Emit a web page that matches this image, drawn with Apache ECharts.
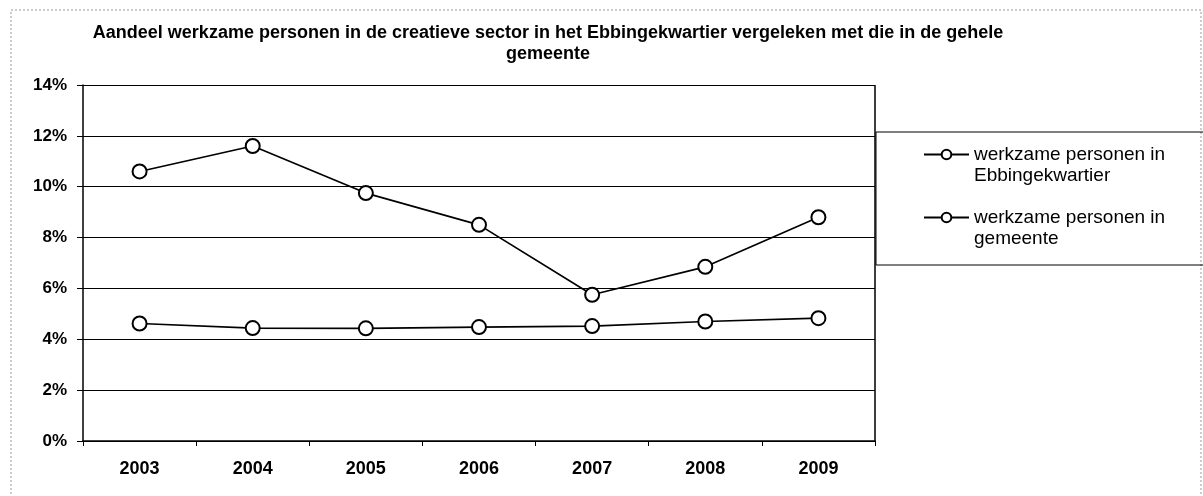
<!DOCTYPE html>
<html>
<head>
<meta charset="utf-8">
<script src="https://cdn.jsdelivr.net/npm/echarts@6/dist/echarts.min.js"></script>
<style>
  html, body { margin: 0; padding: 0; background: #fff; }
  #chart { width: 1203px; height: 496px; }
</style>
</head>
<body>
<div id="chart"></div>
<script>
// jaren op de x-as
var years = ['2003', '2004', '2005', '2006', '2007', '2008', '2009'];
// aandeel in procenten
var ebbinge = [10.6, 11.6, 9.75, 8.5, 5.75, 6.85, 8.8];
var gemeente = [4.62, 4.44, 4.43, 4.48, 4.52, 4.7, 4.83];
var seriesNames = ['werkzame personen in Ebbingekwartier', 'werkzame personen in gemeente'];
var titleLines = [
  'Aandeel werkzame personen in de creatieve sector in het Ebbingekwartier vergeleken met die in de gehele',
  'gemeente'
];

var font = 'Liberation Sans, Arial, sans-serif';
var chart = echarts.init(document.getElementById('chart'), null, { renderer: 'canvas' });

function lineSeries(name, data) {
  return {
    name: name,
    type: 'line',
    data: data,
    symbol: 'circle',
    symbolSize: 14,
    showAllSymbol: true,
    itemStyle: { color: '#fff', borderColor: '#000', borderWidth: 2 },
    lineStyle: { color: '#000', width: 1.7 },
    emphasis: { disabled: true },
    animation: false
  };
}

var option = {
  backgroundColor: '#fff',
  animation: false,
  grid: { left: 83, right: 328, top: 85, bottom: 55 },
  legend: {
    orient: 'vertical',
    left: 918,
    top: 118,
    itemWidth: 45,
    itemHeight: 12,
    itemGap: 0,
    textStyle: { fontFamily: font, fontSize: 19, color: '#000', lineHeight: 21 },
    // lege eerste regel zodat het symbool bij de eerste tekstregel staat
    formatter: function (name) { return '\n' + name.replace(' in ', ' in\n'); },
    data: seriesNames
  },
  xAxis: {
    type: 'category',
    data: years,
    boundaryGap: true,
    axisLine: { lineStyle: { color: '#000', width: 1.5 } },
    axisTick: { show: true, length: 5, lineStyle: { color: '#000' } },
    axisLabel: { fontFamily: font, fontWeight: 'bold', fontSize: 18, color: '#000', margin: 19 },
    splitLine: { show: false }
  },
  yAxis: {
    type: 'value',
    min: 0,
    max: 14,
    interval: 2,
    axisLine: { show: true, lineStyle: { color: '#000', width: 1.5 } },
    axisTick: { show: true, length: 6, lineStyle: { color: '#000' } },
    axisLabel: {
      fontFamily: font, fontWeight: 'bold', fontSize: 17, color: '#000', margin: 16,
      formatter: function (v) { return v + '%'; }
    },
    splitLine: { show: true, lineStyle: { color: '#000', width: 1 } }
  },
  graphic: [
    {
      type: 'rect', silent: true, z: -1,
      shape: { x: 11, y: 10, width: 1190, height: 490 },
      style: { fill: 'none', stroke: '#999', lineWidth: 1, lineDash: [2, 2] }
    },
    {
      type: 'rect', silent: true,
      shape: { x: 875, y: 85, width: 0, height: 356 },
      style: { fill: 'none', stroke: '#000', lineWidth: 1.5 }
    },
    {
      type: 'rect', silent: true,
      shape: { x: 876, y: 132, width: 340, height: 133 },
      style: { fill: 'none', stroke: '#000', lineWidth: 1 }
    },
    {
      type: 'text', silent: true,
      style: {
        x: 548, y: 23, text: titleLines.join('\n'), textAlign: 'center',
        font: 'bold 18px ' + font, fill: '#000', lineHeight: 21
      }
    }
  ],
  series: [
    lineSeries(seriesNames[0], ebbinge),
    lineSeries(seriesNames[1], gemeente)
  ]
};

chart.setOption(option);
</script>
</body>
</html>
